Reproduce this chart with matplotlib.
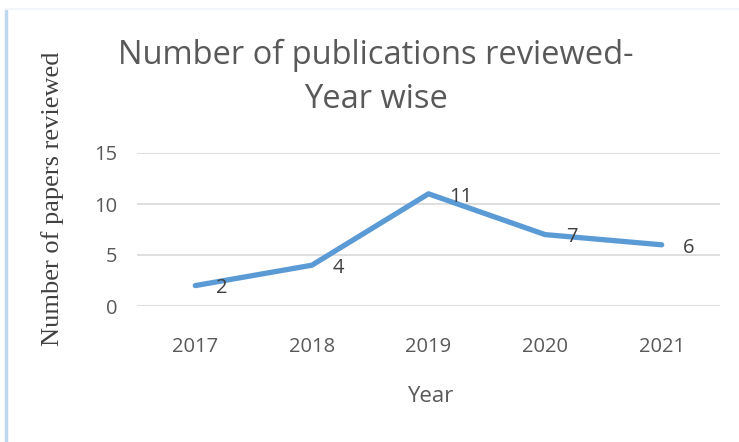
import matplotlib.pyplot as plt
from matplotlib.lines import Line2D

years = ['2017', '2018', '2019', '2020', '2021']
papers = [2, 4, 11, 7, 6]
yticks = [0, 5, 10, 15]

fig = plt.figure(figsize=(7.39, 4.42), dpi=100)
ax = fig.add_axes([137/739, 1-306/442, (720-137)/739, (306-153)/442])

x = range(len(years))
ax.plot(x, papers, color='#5B9BD5', lw=3.8, solid_capstyle='round', solid_joinstyle='round')
for i, v in zip(x, papers):
    ax.annotate(str(v), (i, v), xytext=(15, -2), textcoords='offset points',
                ha='left', va='center', fontsize=14.5, color='#404040', family='Open Sans')

ax.set_xlim(-0.5, len(years) - 0.5)
ax.set_ylim(0, 15)
ax.set_yticks(yticks)
ax.set_xticks(list(x))
ax.set_xticklabels(years)
ax.grid(axis='y', color='#D9D9D9', lw=1.2)
ax.set_axisbelow(True)
for s in ax.spines.values():
    s.set_visible(False)
ax.tick_params(length=0, labelsize=14.5, labelcolor='#595959', pad=14)
ax.tick_params(axis='x', pad=22)
for lab in ax.get_xticklabels() + ax.get_yticklabels():
    lab.set_family('Open Sans')

fig.text(376/739, 1-55/442, 'Number of publications reviewed-', ha='center', va='center',
         fontsize=23.5, color='#595959', family='Open Sans')
fig.text(376/739, 1-100/442, 'Year wise', ha='center', va='center',
         fontsize=23.5, color='#595959', family='Open Sans')
fig.text(53/739, 1-199/442, 'Number of papers reviewed', rotation=90, ha='center', va='center',
         fontsize=19, color='#404040', family='Liberation Serif')
fig.text(430/739, 1-397/442, 'Year', ha='center', va='center',
         fontsize=16, color='#595959', family='Open Sans')

# chart frame edges
fig.add_artist(Line2D([6/739, 6/739], [0, 1-10/442], color='#BDD7EE', lw=2.5))
fig.add_artist(Line2D([6/739, 1], [1-9/442, 1-9/442], color='#F2F6FB', lw=1.5))

fig.savefig('out.png', dpi=100)
